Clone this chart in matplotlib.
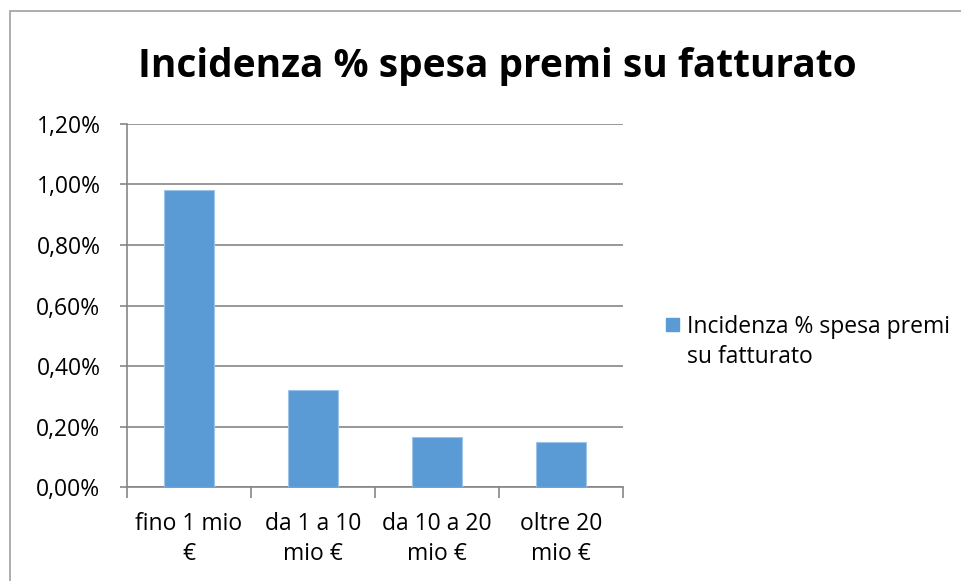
import matplotlib
matplotlib.use("Agg")
import matplotlib.pyplot as plt
from matplotlib.patches import Rectangle
from matplotlib.ticker import FuncFormatter, FixedLocator

categories = ["fino 1 mio\n€", "da 1 a 10\nmio €", "da 10 a 20\nmio €", "oltre 20\nmio €"]
values = [0.980, 0.322, 0.168, 0.151]
series_name = "Incidenza % spesa premi\nsu fatturato"
title = "Incidenza % spesa premi su fatturato"
yticks = [0.0, 0.2, 0.4, 0.6, 0.8, 1.0, 1.2]

plt.rcParams['font.family'] = ['Open Sans', 'DejaVu Sans']
bar_color = "#5b9bd5"
axis_color = "#868686"

fig = plt.figure(figsize=(9.61, 5.81), dpi=100)
ax = fig.add_axes([0.132, 0.161, 0.516, 0.626])

# cornice del grafico
fig.patches.append(Rectangle((10 / 961, -0.1), 1.1, 1 - 11 / 581 + 0.1,
                             transform=fig.transFigure, fill=False,
                             edgecolor="#a0a0a0", linewidth=1.2))

x = range(len(categories))
ax.bar(x, values, width=0.4, color=bar_color, edgecolor="#9dc3e6", linewidth=0.8, zorder=3)

ax.set_xlim(-0.5, len(categories) - 0.5)
ax.set_ylim(0, 1.2)
ax.set_yticks(yticks)
ax.yaxis.set_major_formatter(FuncFormatter(lambda v, p: f"{v:.2f}%".replace(".", ",")))
ax.yaxis.grid(True, color=axis_color, linewidth=1.2, zorder=0)

ax.set_xticks(list(x))
ax.set_xticklabels(categories, fontsize=16.5, linespacing=1.3)
ax.tick_params(axis="x", length=0, pad=18)
ax.xaxis.set_minor_locator(FixedLocator([i - 0.5 for i in range(len(categories) + 1)]))
ax.tick_params(axis="x", which="minor", length=8, width=1.2, color=axis_color)
ax.tick_params(axis="y", length=5, width=1.2, color=axis_color, labelsize=16.5, pad=14)

for s in ["top", "right"]:
    ax.spines[s].set_visible(False)
for s in ["left", "bottom"]:
    ax.spines[s].set_color(axis_color)
    ax.spines[s].set_linewidth(1.2)

fig.text(0.518, 0.886, title, ha="center", va="center", fontsize=28, fontweight="bold")

# legenda
fig.patches.append(Rectangle((666 / 961, 1 - 331 / 581), 13 / 961, 13 / 581,
                             transform=fig.transFigure, color=bar_color))
fig.text(687 / 961, 1 - 342 / 581, series_name, ha="left", va="center",
         fontsize=16.5, linespacing=1.3)

fig.savefig("out.png", dpi=100)
